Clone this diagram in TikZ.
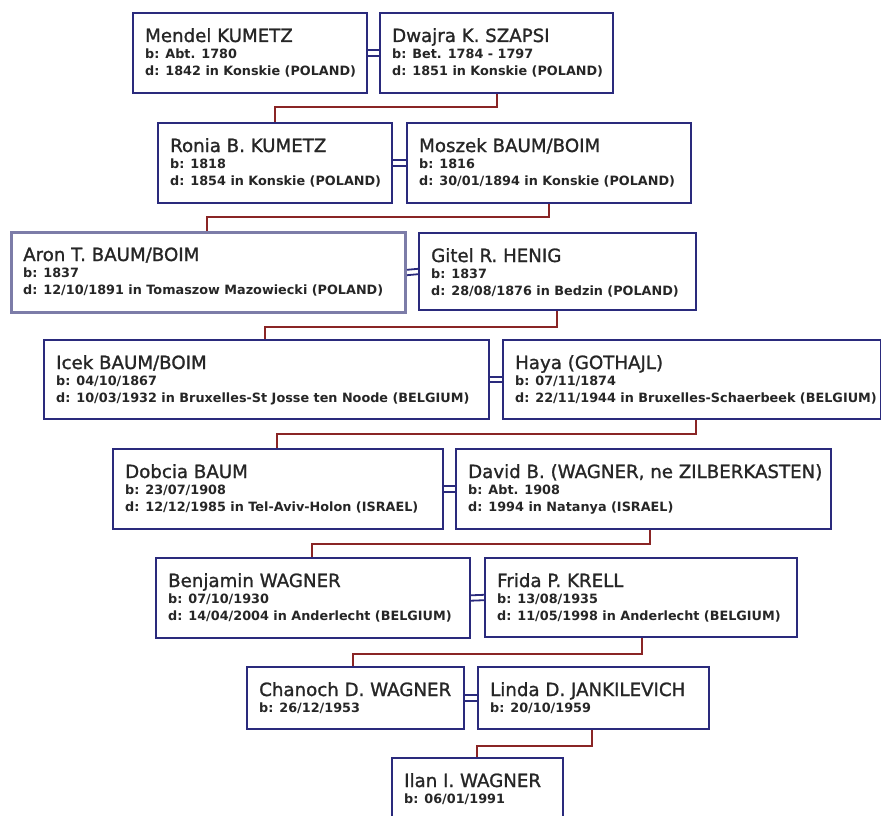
\documentclass[tikz,border=0pt]{standalone}
\usepackage{fontspec}
\setmainfont{DejaVu Sans}
\newfontfamily\namefont[FakeBold=1.2]{DejaVu Sans}
\usetikzlibrary{calc}
\definecolor{boxc}{HTML}{2A2A7C}
\definecolor{boxl}{HTML}{7C7CA8}
\definecolor{kidc}{HTML}{8A2525}
\definecolor{txtc}{HTML}{262626}
\tikzset{
  pbox/.style={draw=boxc, line width=2pt, fill=white, inner sep=0pt, anchor=north west},
  nm/.style={inner sep=0pt, anchor=base west, text=txtc, font=\namefont\fontsize{18.2}{20}\selectfont},
  dt/.style={inner sep=0pt, anchor=base west, text=txtc, font=\bfseries\fontsize{12.8}{14}\selectfont},
  kid/.style={draw=kidc, line width=1.6pt},
  marr/.style={draw=boxc, line width=1.8pt}
}
% #1 options, #2 id, #3 x1, #4 y1, #5 x2, #6 y2
\newcommand\personbox[6][]{%
  \node[pbox, minimum width=#5pt-#3pt, minimum height=#6pt-#4pt, #1] (#2) at (#3,#4) {};}
\newcommand\pname[2]{\node[nm] (#1-n) at ($(#1.north west)+(13,30)$) {#2};}
\newcommand\pborn[2]{\node[dt] (#1-b) at ($(#1.north west)+(13,46.5)$) {#2};}
\newcommand\pdied[2]{\node[dt] (#1-d) at ($(#1.north west)+(13,63.5)$) {#2};}
\newcommand\wed[2]{%
  \draw[marr] ([yshift=2.7pt]#1.east) -- ([yshift=2.7pt]#2.west);
  \draw[marr] ([yshift=-2.7pt]#1.east) -- ([yshift=-2.7pt]#2.west);}
\begin{document}
\begin{tikzpicture}[x=1pt, y=-1pt]
\useasboundingbox (0,0) rectangle (881,816);
\clip (0,0) rectangle (881,816);

% row 1
\personbox{mendel}{132}{12}{366}{92}
\personbox{dwajra}{379}{12}{612}{92}
% row 2
\personbox{ronia}{157}{122}{391}{202}
\personbox{moszek}{406}{122}{690}{202}
% row 3
\personbox[draw=boxl, line width=3pt]{aron}{10}{231}{404}{311}
\personbox{gitel}{418}{232}{695}{309}
% row 4
\personbox{icek}{43}{339}{488}{418}
\personbox{haya}{502}{339}{880}{418}
% row 5
\personbox{dobcia}{112}{448}{442}{528}
\personbox{david}{455}{448}{830}{528}
% row 6
\personbox{benjamin}{155}{557}{469}{637}
\personbox{frida}{484}{557}{796}{636}
% row 7
\personbox{chanoch}{246}{666}{463}{728}
\personbox{linda}{477}{666}{708}{728}
% row 8
\personbox{ilan}{391}{757}{562}{840}

% marriages
\wed{mendel}{dwajra}
\wed{ronia}{moszek}
\wed{aron}{gitel}
\wed{icek}{haya}
\wed{dobcia}{david}
\wed{benjamin}{frida}
\wed{chanoch}{linda}

% descent lines
\draw[kid] ($(dwajra.south west)+(118,0)$) -- ++(0,13) -| ($(ronia.north west)+(118,0)$);
\draw[kid] ($(moszek.south west)+(143,0)$) -- ++(0,13) -| ($(aron.north west)+(197,0)$);
\draw[kid] ($(gitel.south west)+(139,0)$) -- ++(0,16) -| ($(icek.north west)+(222,0)$);
\draw[kid] ($(haya.south west)+(194,0)$) -- ++(0,14) -| ($(dobcia.north west)+(165,0)$);
\draw[kid] ($(david.south west)+(195,0)$) -- ++(0,14) -| ($(benjamin.north west)+(157,0)$);
\draw[kid] ($(frida.south west)+(158,0)$) -- ++(0,16) -| ($(chanoch.north west)+(107,0)$);
\draw[kid] ($(linda.south west)+(115,0)$) -- ++(0,16) -| ($(ilan.north west)+(86,0)$);

% texts
\pname{mendel}{Mendel KUMETZ}
\pborn{mendel}{b: Abt. 1780}
\pdied{mendel}{d: 1842 in Konskie (POLAND)}

\pname{dwajra}{Dwajra K. SZAPSI}
\pborn{dwajra}{b: Bet. 1784 - 1797}
\pdied{dwajra}{d: 1851 in Konskie (POLAND)}

\pname{ronia}{Ronia B. KUMETZ}
\pborn{ronia}{b: 1818}
\pdied{ronia}{d: 1854 in Konskie (POLAND)}

\pname{moszek}{Moszek BAUM/BOIM}
\pborn{moszek}{b: 1816}
\pdied{moszek}{d: 30/01/1894 in Konskie (POLAND)}

\pname{aron}{Aron T. BAUM/BOIM}
\pborn{aron}{b: 1837}
\pdied{aron}{d: 12/10/1891 in Tomaszow Mazowiecki (POLAND)}

\pname{gitel}{Gitel R. HENIG}
\pborn{gitel}{b: 1837}
\pdied{gitel}{d: 28/08/1876 in Bedzin (POLAND)}

\pname{icek}{Icek BAUM/BOIM}
\pborn{icek}{b: 04/10/1867}
\pdied{icek}{d: 10/03/1932 in Bruxelles-St Josse ten Noode (BELGIUM)}

\pname{haya}{Haya (GOTHAJL)}
\pborn{haya}{b: 07/11/1874}
\pdied{haya}{d: 22/11/1944 in Bruxelles-Schaerbeek (BELGIUM)}

\pname{dobcia}{Dobcia BAUM}
\pborn{dobcia}{b: 23/07/1908}
\pdied{dobcia}{d: 12/12/1985 in Tel-Aviv-Holon (ISRAEL)}

\pname{david}{David B. (WAGNER, ne ZILBERKASTEN)}
\pborn{david}{b: Abt. 1908}
\pdied{david}{d: 1994 in Natanya (ISRAEL)}

\pname{benjamin}{Benjamin WAGNER}
\pborn{benjamin}{b: 07/10/1930}
\pdied{benjamin}{d: 14/04/2004 in Anderlecht (BELGIUM)}

\pname{frida}{Frida P. KRELL}
\pborn{frida}{b: 13/08/1935}
\pdied{frida}{d: 11/05/1998 in Anderlecht (BELGIUM)}

\pname{chanoch}{Chanoch D. WAGNER}
\pborn{chanoch}{b: 26/12/1953}

\pname{linda}{Linda D. JANKILEVICH}
\pborn{linda}{b: 20/10/1959}

\pname{ilan}{Ilan I. WAGNER}
\pborn{ilan}{b: 06/01/1991}
\end{tikzpicture}
\end{document}
